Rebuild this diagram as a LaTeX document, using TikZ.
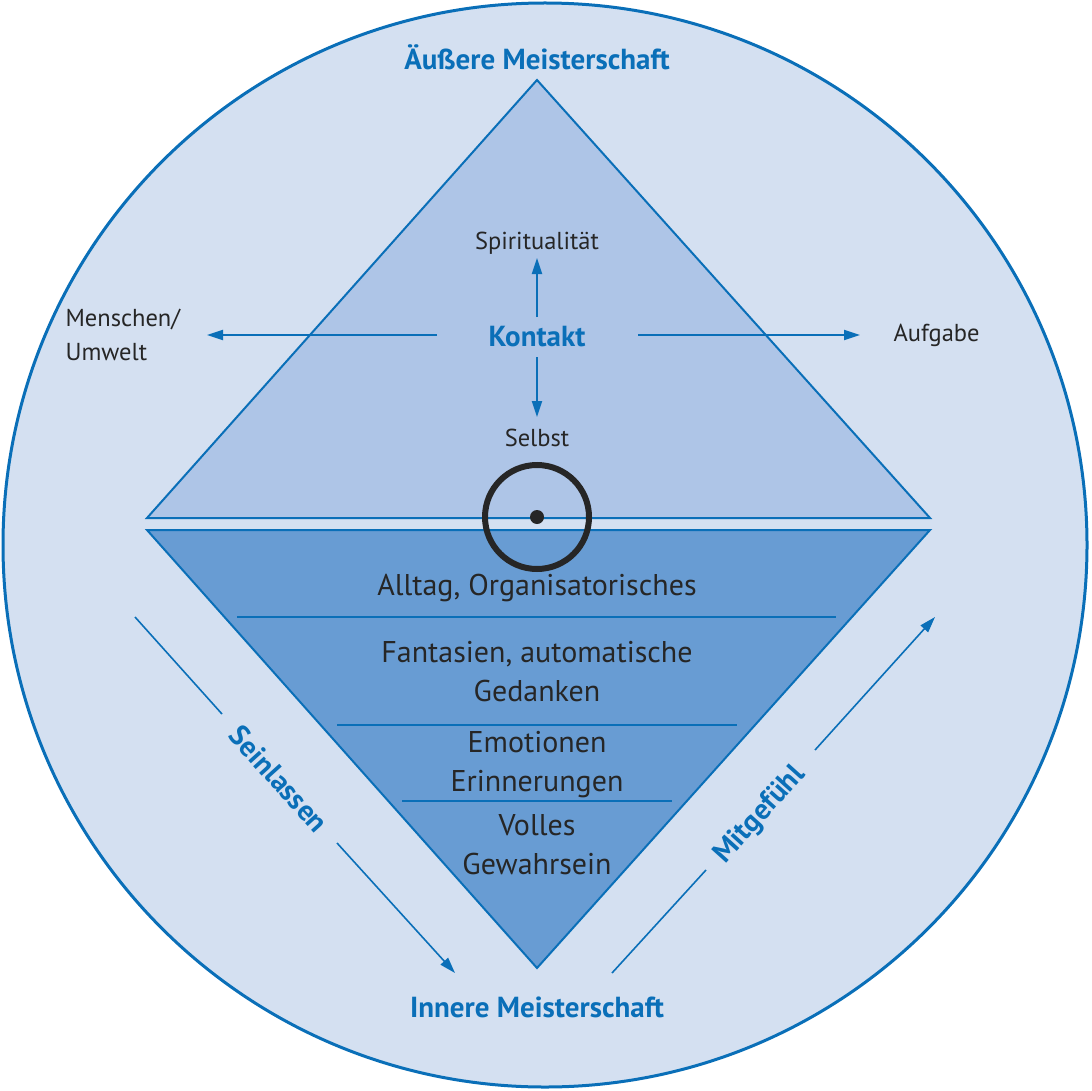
\documentclass[tikz,border=0pt]{standalone}
\usepackage{fontspec}
\setmainfont{PT Sans}
\usetikzlibrary{arrows.meta}
\definecolor{bl}{HTML}{0A6FB8}
\definecolor{bgc}{HTML}{D4E0F1}
\definecolor{up}{HTML}{AEC5E7}
\definecolor{lo}{HTML}{689CD3}
\begin{document}
\begin{tikzpicture}[x=1pt,y=-1pt,
 arr/.style={bl,line width=2pt,-{Triangle[length=16pt,width=10pt]}},
 sl/.style={bl,line width=1.6pt},
 dk/.style={font=\fontsize{30}{39}\selectfont,text=black!85},
 sm/.style={font=\fontsize{24.5}{34}\selectfont,text=black!85},
 hd/.style={font=\fontsize{29}{32}\selectfont\bfseries,text=bl}]
\useasboundingbox (0,0) rectangle (1091,1091);
\draw[bl,line width=3pt,fill=bgc] (545,545) circle (542);
\draw[bl,line width=2pt,fill=up] (147,518) -- (537,80) -- (930,518) -- cycle;
\draw[bl,line width=2pt,fill=lo] (147,530) -- (930,530) -- (537,968) -- cycle;
\draw[sl] (237,617) -- (836,617);
\draw[sl] (337,725) -- (737,725);
\draw[sl] (402,801) -- (672,801);
\draw[black!85,line width=6pt] (537,517) circle (52);
\fill[black!85] (537,517) circle (7);
\node[hd] (k) at (537,337) {Kontakt};
\node[sm] (sp) at (537,243) {Spiritualität};
\node[sm] (se) at (537,438) {Selbst};
\node[sm,align=left,anchor=west] (mu) at (62,335) {Menschen/\\Umwelt};
\node[sm,anchor=west] (au) at (890,335) {Aufgabe};
\coordinate (kl) at (437,335); \coordinate (kle) at (207,335);
\coordinate (kr) at (638,335); \coordinate (kre) at (860,335);
\coordinate (ku) at (537,317); \coordinate (kue) at (537,258);
\coordinate (kd) at (537,357); \coordinate (kde) at (537,417);
\draw[arr] (kl) -- (kle);
\draw[arr] (kr) -- (kre);
\draw[arr] (ku) -- (kue);
\draw[arr] (kd) -- (kde);
\node[hd] (am) at (537,57) {Äußere Meisterschaft};
\node[hd] (im) at (537,1007) {Innere Meisterschaft};
\node[dk] at (537,588) {Alltag, Organisatorisches};
\node[dk,align=center] at (537,672) {Fantasien, automatische\\Gedanken};
\node[dk,align=center] at (537,765) {Emotionen\\Erinnerungen};
\node[dk,align=center] at (537,845) {Volles\\Gewahrsein};
\node[hd,rotate=-48] (sei) at (279,779) {Seinlassen};
\node[hd,rotate=48] (mit) at (760,815) {Mitgefühl};
\coordinate (s1) at (135,617); \coordinate (s2) at (222,714);
\coordinate (s3) at (337,843); \coordinate (s4) at (455,973);
\draw[sl] (s1) -- (s2);
\draw[arr,line width=1.6pt] (s3) -- (s4);
\coordinate (m1) at (612,973); \coordinate (m2) at (706,870);
\coordinate (m3) at (815,750); \coordinate (m4) at (935,617);
\draw[sl] (m1) -- (m2);
\draw[arr,line width=1.6pt] (m3) -- (m4);
\end{tikzpicture}
\end{document}
